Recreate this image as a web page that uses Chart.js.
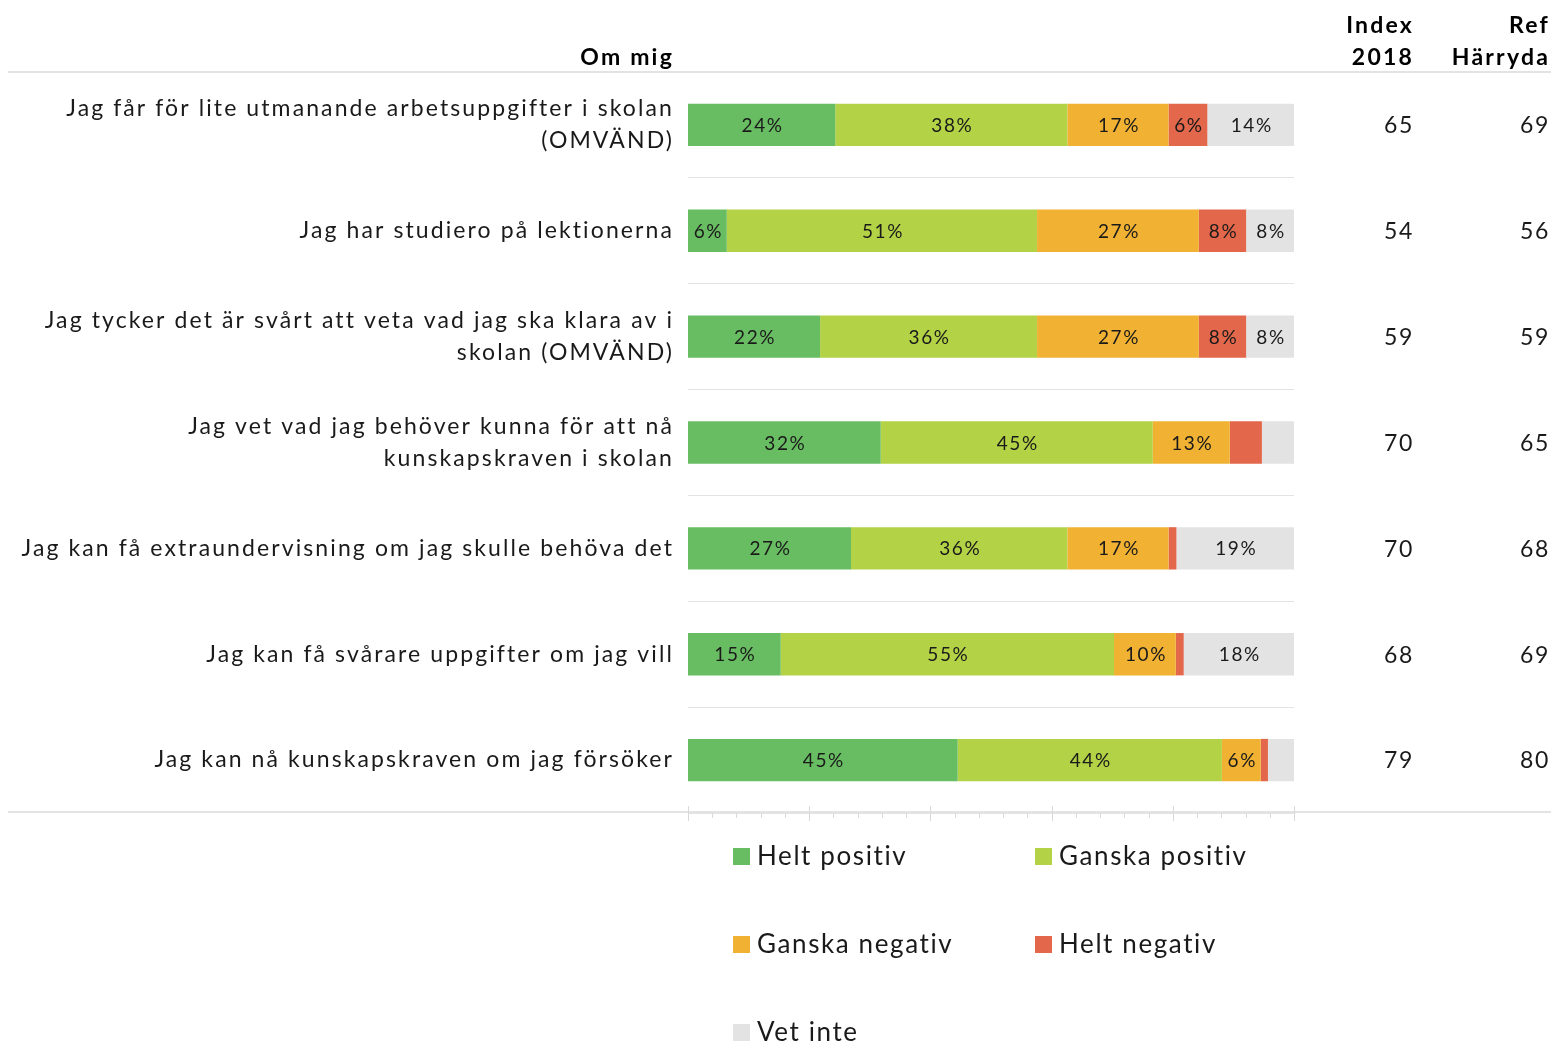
<!DOCTYPE html>
<html>
<head>
<meta charset="utf-8">
<script src="https://cdn.jsdelivr.net/npm/chart.js@4.4.1/dist/chart.umd.min.js"></script>
<style>
  body { margin: 0; background: #fff; }
  canvas { display: block; }
</style>
</head>
<body>
<canvas id="omMig" width="1551" height="1043"></canvas>
<script>
// Data
const categories = [
    ['Jag får för lite utmanande arbetsuppgifter i skolan', '(OMVÄND)'],
    'Jag har studiero på lektionerna',
    ['Jag tycker det är svårt att veta vad jag ska klara av i', 'skolan (OMVÄND)'],
    ['Jag vet vad jag behöver kunna för att nå', 'kunskapskraven i skolan'],
    'Jag kan få extraundervisning om jag skulle behöva det',
    'Jag kan få svårare uppgifter om jag vill',
    'Jag kan nå kunskapskraven om jag försöker'
];
const heltPositiv   = [24.3, 6.4, 21.8, 31.8, 26.9, 15.3, 44.5];
const ganskaPositiv = [38.3, 51.2, 35.8, 44.9, 35.7, 55.0, 43.6];
const ganskaNegativ = [16.7, 26.7, 26.7, 12.7, 16.7, 10.2, 6.4];
const heltNegativ   = [6.4, 7.8, 7.8, 5.3, 1.3, 1.3, 1.2];
const vetInte       = [14.3, 7.9, 7.9, 5.3, 19.4, 18.2, 4.3];
const index2018     = [65, 54, 59, 70, 70, 68, 79];
const refHarryda    = [69, 56, 59, 65, 68, 69, 80];
const xTicks        = [0, 20, 40, 60, 80, 100];

const FONT = "Lato, 'Open Sans', sans-serif";
const LINE = '#e3e3e3';

// Extra drawing: labels in bars, side columns, axis ticks, legend
const extras = {
    id: 'extras',
    beforeDraw(chart) {
        // wider tracking for the category labels, like the original
        chart.ctx.letterSpacing = '2.1px';
    },
    afterDatasetsDraw(chart) {
        const ctx = chart.ctx;
        const xs = chart.scales.x;
        const ys = chart.scales.y;
        const area = chart.chartArea;
        ctx.save();
        ctx.letterSpacing = '1.6px';

        // segment labels
        ctx.font = '19px ' + FONT;
        ctx.fillStyle = '#1a1a1a';
        ctx.textAlign = 'center';
        ctx.textBaseline = 'middle';
        chart.data.datasets.forEach((ds, di) => {
            const meta = chart.getDatasetMeta(di);
            meta.data.forEach((bar, i) => {
                const v = Math.round(ds.data[i]);
                if (v < 6) return;
                const cx = (bar.x + bar.base) / 2;
                ctx.fillText(v + '%', cx + 1, bar.y + 1);
            });
        });

        // full width top / bottom rules
        ctx.strokeStyle = LINE;
        ctx.lineWidth = 2;
        ctx.beginPath();
        ctx.moveTo(8, area.top);
        ctx.lineTo(1551, area.top);
        ctx.moveTo(8, area.bottom - 1);
        ctx.lineTo(1551, area.bottom - 1);
        ctx.stroke();

        // x axis tick marks (major + minor)
        ctx.lineWidth = 1;
        ctx.strokeStyle = '#d9d9d9';
        ctx.beginPath();
        for (let v = 0; v <= 100; v += 4) {
            const px = Math.round(xs.getPixelForValue(v)) + 0.5;
            const major = xTicks.includes(v);
            ctx.moveTo(px, major ? area.bottom - 7 : area.bottom);
            ctx.lineTo(px, major ? area.bottom + 8 : area.bottom + 5);
        }
        ctx.stroke();

        // header texts
        ctx.fillStyle = '#000';
        ctx.textAlign = 'right';
        ctx.letterSpacing = '2.2px';
        ctx.font = 'bold 23px ' + FONT;
        ctx.fillText('Om mig', 674, 58);
        ctx.fillText('Index', 1414, 26);
        ctx.fillText('2018', 1414, 58);
        ctx.fillText('Ref', 1550, 26);
        ctx.fillText('Härryda', 1550, 58);

        // index columns
        ctx.letterSpacing = '1.6px';
        ctx.font = '23px ' + FONT;
        ctx.fillStyle = '#1a1a1a';
        categories.forEach((c, i) => {
            const y = ys.getPixelForValue(i) + 1;
            ctx.fillText(String(index2018[i]), 1414, y);
            ctx.fillText(String(refHarryda[i]), 1550, y);
        });

        // legend, two columns
        ctx.textAlign = 'left';
        ctx.font = '26px ' + FONT;
        chart.data.datasets.forEach((ds, di) => {
            const col = di % 2;
            const row = Math.floor(di / 2);
            const x = col === 0 ? 733 : 1035;
            const y = 856 + row * 88;
            ctx.fillStyle = ds.backgroundColor;
            ctx.fillRect(x, y - 8, 17, 17);
            ctx.fillStyle = '#1a1a1a';
            ctx.fillText(ds.label, x + 24, y + 1);
        });
        ctx.restore();
    }
};

const ctx = document.getElementById('omMig').getContext('2d');
new Chart(ctx, {
    type: 'bar',
    data: {
        labels: categories,
        datasets: [
            { label: 'Helt positiv', data: heltPositiv, backgroundColor: '#68bd62' },
            { label: 'Ganska positiv', data: ganskaPositiv, backgroundColor: '#b3d246' },
            { label: 'Ganska negativ', data: ganskaNegativ, backgroundColor: '#f1b234' },
            { label: 'Helt negativ', data: heltNegativ, backgroundColor: '#e2674b' },
            { label: 'Vet inte', data: vetInte, backgroundColor: '#e3e3e3' }
        ]
    },
    options: {
        indexAxis: 'y',
        responsive: false,
        animation: false,
        layout: { padding: { top: 72, right: 257, bottom: 230, left: 0 } },
        datasets: { bar: { categoryPercentage: 1, barPercentage: 0.4 } },
        scales: {
            x: { stacked: true, min: 0, max: 100, display: false },
            y: {
                stacked: true,
                border: { display: false },
                grid: {
                    drawTicks: false,
                    color: (c) => (c.index === 0 || c.index === categories.length) ? 'rgba(0,0,0,0)' : LINE,
                    lineWidth: 1
                },
                ticks: {
                    color: '#1a1a1a',
                    padding: 14,
                    font: { family: FONT, size: 23, lineHeight: 1.4 }
                },
                afterFit(scale) { scale.width = 688; }
            }
        },
        plugins: {
            legend: { display: false },
            tooltip: { enabled: false }
        }
    },
    plugins: [extras]
});
</script>
</body>
</html>
